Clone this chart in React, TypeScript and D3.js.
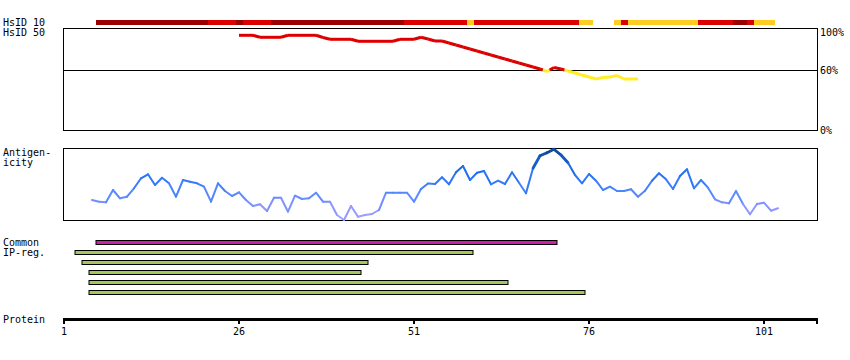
import React from 'react';
import * as d3 from 'd3';

// ---------- data ----------
const tickResidues = [1, 26, 51, 76, 101];

// HsID 10 identity bar (residue runs)
const hsid10Start = [6, 22, 26, 27, 31, 50, 59, 60, 75, 80, 81, 82, 92, 97, 99, 100];
const hsid10End = [21, 25, 26, 30, 49, 58, 59, 74, 76, 80, 81, 91, 96, 98, 99, 102];
const hsid10Level = ['high', 'mid', 'high', 'mid', 'high', 'mid', 'low', 'mid', 'low', 'low', 'mid', 'low', 'mid', 'high', 'mid', 'low'];

// HsID 50 identity curve (percent), residues 26..83
const hsid50StartResidue = 26;
const hsid50Values = [
  94.7, 94.7, 94.7, 92.7, 92.7, 92.7, 92.7, 94.7, 94.7, 94.7,
  94.7, 94.7, 92.5, 90.7, 90.7, 90.7, 90.7, 88.7, 88.7, 88.7,
  88.7, 88.7, 88.7, 90.7, 90.7, 90.7, 92.7, 91, 89, 89,
  87, 85, 83, 81, 79, 77, 75, 73, 71, 69,
  67, 65, 63, 61, 58.5, 62.5, 61, 59, 57, 55,
  53, 51, 52.5, 53, 54.5, 51, 51, 51,
];
const percentTicks = [0, 60, 100];

// Antigenicity score, residues 5..103
const antigenStartResidue = 5;
const antigenValues = [
  20, 18.3, 17.7, 30, 21.7, 23.3, 31.7, 41.7, 45.7, 35,
  42.3, 36.7, 23.3, 40, 38.3, 36.7, 33.3, 18.3, 36.7, 29,
  24, 27.7, 20, 14, 15.7, 9, 22.3, 22.3, 8.3, 24.3,
  21, 21.7, 27.3, 18.3, 18.3, 5, 0, 14, 3.3, 5,
  6, 10, 27.3, 27.3, 27.3, 27.3, 18.3, 31, 36.5, 36,
  42.7, 35.7, 47.7, 54, 40, 47.3, 49, 35.7, 39.3, 36,
  47.7, 37.3, 26.7, 51.7, 64.3, 67.3, 70.7, 65, 57.3, 45,
  36.7, 46, 39.3, 30, 33.3, 29, 29, 30.7, 23.3, 29.3,
  39.3, 46.7, 40.7, 31, 44, 50.7, 31.7, 40, 32.3, 20.7,
  17.7, 16.7, 29, 16, 5.7, 16, 17.3, 9.3, 11.7,
];

// Common IP-regions
const ipRegStart = [6, 3, 4, 5, 5, 5];
const ipRegEnd = [71, 59, 44, 43, 64, 75];
const ipRegKind = ['common', 'ip', 'ip', 'ip', 'ip', 'ip'];

// ---------- styles ----------
const FONT = '"DejaVu Sans Mono", monospace';
const levelColor: Record<string, string> = { high: '#990000', mid: '#dd0000', low: '#ffcc22' };
const kindColor: Record<string, string> = { common: '#cc22aa', ip: '#a3c95a' };

export default function App() {
  const W = 850, H = 360;
  const left = 64, right = 817;
  const x = d3.scaleLinear().domain([1, 101]).range([64, 764]);
  const half = (x(2) - x(1)) / 2;

  // HsID50
  const hsTop = 28, hsBottom = 130;
  const yHs = d3.scaleLinear().domain([0, 100]).range([130, 30]);
  const hsPts = hsid50Values.map((v, i) => ({ r: hsid50StartResidue + i, v }));
  const thr = 60;
  const hsSegs: { x1: number; y1: number; x2: number; y2: number; c: string }[] = [];
  for (let i = 0; i < hsPts.length - 1; i++) {
    const a = hsPts[i], b = hsPts[i + 1];
    const ca = a.v >= thr, cb = b.v >= thr;
    if (ca === cb) {
      hsSegs.push({ x1: x(a.r), y1: yHs(a.v), x2: x(b.r), y2: yHs(b.v), c: ca ? '#dd0000' : '#ffee22' });
    } else {
      const t = (thr - a.v) / (b.v - a.v);
      const rm = a.r + t * (b.r - a.r);
      hsSegs.push({ x1: x(a.r), y1: yHs(a.v), x2: x(rm), y2: yHs(thr), c: ca ? '#dd0000' : '#ffee22' });
      hsSegs.push({ x1: x(rm), y1: yHs(thr), x2: x(b.r), y2: yHs(b.v), c: cb ? '#dd0000' : '#ffee22' });
    }
  }

  // Antigenicity
  const agTop = 148, agBottom = 220;
  const yAg = d3.scaleLinear().domain([0, 72]).range([220, 148]);
  const agColor = d3
    .scaleLinear<string>()
    .domain([0, 12, 28, 48, 72])
    .range(['#aaa2ff', '#8a96ff', '#4f86ff', '#1c6ff2', '#0a4590'])
    .interpolate(d3.interpolateRgb)
    .clamp(true);
  const agPts = antigenValues.map((v, i) => ({ r: antigenStartResidue + i, v }));

  const rowY0 = 240, rowStep = 10, rowH = 4;

  return (
    <svg width={W} height={H} style={{ position: 'absolute', left: 0, top: 0, background: '#fff' }} fontFamily={FONT} fontSize={10}>
      <rect x={0} y={0} width={W} height={H} fill="#fff" />
      {/* labels */}
      <text x={3} y={26}>HsID 10</text>
      <text x={3} y={36}>HsID 50</text>
      <text x={3} y={156}>Antigen-</text>
      <text x={3} y={166}>icity</text>
      <text x={3} y={246}>Common</text>
      <text x={3} y={256}>IP-reg.</text>
      <text x={3} y={323}>Protein</text>

      {/* HsID 10 bar */}
      {hsid10Start.map((s, i) => (
        <rect key={'h10' + i} x={x(s) - half} y={20} width={x(hsid10End[i]) - x(s) + 2 * half} height={5}
          fill={levelColor[hsid10Level[i]]} shapeRendering="crispEdges" />
      ))}

      {/* HsID 50 panel */}
      <rect x={left - 0.5} y={hsTop + 0.5} width={right - left + 1} height={hsBottom - hsTop} fill="none" stroke="#000" strokeWidth={1} shapeRendering="crispEdges" />
      <line x1={left - 0.5} x2={right + 0.5} y1={yHs(60)} y2={yHs(60)} stroke="#000" strokeWidth={1} shapeRendering="crispEdges" />
      {percentTicks.map((p) => (
        <text key={'pt' + p} x={820} y={Math.max(yHs(p) + 4, hsTop + 8)}>{p}%</text>
      ))}
      {hsSegs.map((s, i) => (
        <line key={'hs' + i} x1={s.x1} y1={s.y1} x2={s.x2} y2={s.y2} stroke={s.c} strokeWidth={3} strokeLinecap="butt" />
      ))}

      {/* Antigenicity panel */}
      <rect x={left - 0.5} y={agTop + 0.5} width={right - left + 1} height={agBottom - agTop} fill="none" stroke="#000" strokeWidth={1} shapeRendering="crispEdges" />
      {agPts.slice(0, -1).map((a, i) => {
        const b = agPts[i + 1];
        const m = (a.v + b.v) / 2;
        return (
          <line key={'ag' + i} x1={x(a.r)} y1={yAg(a.v)} x2={x(b.r)} y2={yAg(b.v)}
            stroke={agColor(m)} strokeWidth={m > 55 ? 2.8 : 2} strokeLinecap="round" />
        );
      })}

      {/* Common IP-reg bars */}
      {ipRegStart.map((s, i) => (
        <rect key={'ip' + i} x={x(s) - half + 0.5} y={rowY0 + i * rowStep + 0.5} width={x(ipRegEnd[i]) - x(s) + 2 * half - 1} height={rowH}
          fill={kindColor[ipRegKind[i]]} stroke="#000" strokeWidth={1} />
      ))}

      {/* Protein axis */}
      <rect x={left} y={318} width={right - left} height={3} fill="#000" shapeRendering="crispEdges" />
      {tickResidues.map((t) => (
        <g key={'tk' + t}>
          <rect x={x(t) - 1} y={318} width={2} height={6} fill="#000" shapeRendering="crispEdges" />
          <text x={x(t)} y={335} textAnchor="middle">{t}</text>
        </g>
      ))}
      <rect x={right - 1.5} y={318} width={2} height={6} fill="#000" shapeRendering="crispEdges" />
    </svg>
  );
}
